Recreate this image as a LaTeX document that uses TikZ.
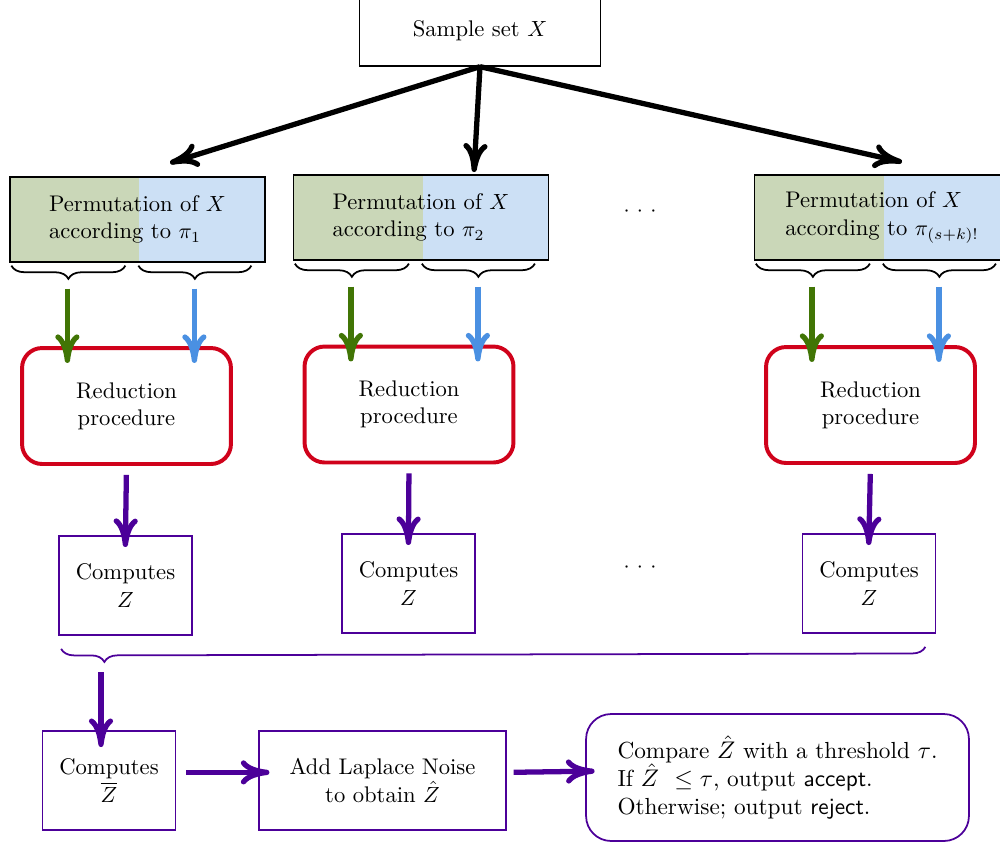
\documentclass[tikz,border=0pt]{standalone}
\usepackage{amsmath,amssymb}
\usepackage{tikz}
\usetikzlibrary{shapes,arrows.meta,calc,positioning,decorations.pathreplacing}
\definecolor{permgreen}{HTML}{CAD7B8}
\definecolor{permblue}{HTML}{CCE0F5}
\definecolor{arrgreen}{HTML}{417505}
\definecolor{arrblue}{HTML}{4A90E2}
\definecolor{redbox}{HTML}{D0021B}
\definecolor{purp}{HTML}{4C0099}

\tikzset{
  halfsplit/.style={path picture={
    \fill[permgreen] (path picture bounding box.north west) rectangle ($(path picture bounding box.south west)+(2.064cm,0)$);
    \fill[permblue] ($(path picture bounding box.north west)+(2.064cm,0)$) rectangle (path picture bounding box.south east);}},
  brc/.style={decorate,decoration={brace,mirror,amplitude=6pt},thick},
  bigarrow/.style={-{To[length=13pt,width=11pt]},line width=2.4pt}
}

\begin{document}
\begin{tikzpicture}[x=0.016cm, y=-0.016cm, font=\fontsize{10.3}{12.4}\selectfont]
   \useasboundingbox (0,0) rectangle (1000,845);
   % sample set and permutations
   \node (smp) [draw, semithick, minimum width=3.856cm, minimum height=1.12cm] at (480,31) {Sample set $X$};
   \begin{scope}[every node/.style={draw, semithick, halfsplit, align=left, minimum width=4.08cm, minimum height=1.36cm}]
    \node (p1) at (137.5,219.5) {Permutation of $X$\\according to $\pi_1$};
    \node (p2) at (421,217.5) {Permutation of $X$\\according to $\pi_2$};
    \node (p3) at (882,217.5) {Permutation of $X$\\according to $\pi_{(s+k)!}$};
   \end{scope}
   \node (dots1) at (640,212) {${\cdot}\mkern6mu{\cdot}\mkern6mu{\cdot}$};
   \node (dots2) at (640,568) {${\cdot}\mkern6mu{\cdot}\mkern6mu{\cdot}$};
   % reduction boxes
   \begin{scope}[every node/.style={draw=redbox, line width=1.8pt, rounded corners=0.32cm, align=center, minimum width=3.344cm, minimum height=1.856cm}]
    \node (r1) at (126.5,406) {Reduction\\procedure};
    \node (r2) at (409,404.5) {Reduction\\procedure};
    \node (r3) at (870.5,405) {Reduction\\procedure};
   \end{scope}
   \begin{scope}[every node/.style={draw=purp, thick, align=center, minimum width=2.128cm, minimum height=1.584cm}]
    \node (c1) at (125.5,585.5) {Computes\\$Z$};
    \node (c2) at (408.5,583.5) {Computes\\$Z$};
    \node (c3) at (869,583.5) {Computes\\$Z$};
    \node (zb) at (109,780.5) {Computes\\$\overline{Z}$};
    \node (lap) [minimum width=3.952cm] at (382.5,780.5) {Add Laplace Noise\\to obtain $\hat{Z}$};
    \node (cmp) [rounded corners=0.4cm, align=left, minimum width=6.128cm, minimum height=2.032cm, font=\fontsize{10.6}{12.9}\selectfont] at (777.5,777.5)
      {Compare $\hat{Z}$ with a threshold $\tau$.\\If $\hat{Z}$ \ $\leq\tau$, output \textsf{accept}.\\Otherwise; output \textsf{reject}.};
   \end{scope}
   % free ends
   \coordinate (t1) at (170,163);
   \coordinate (t2) at (474,172);
   \coordinate (t3) at (902,162);
   \coordinate (zt) at (101,672);
   \begin{scope}[bigarrow]
    \draw (smp.south) -- (t1);
    \draw (smp.south) -- (t2);
    \draw (smp.south) -- (t3);
   \end{scope}
   % braces and split arrows
   \foreach \p/\r in {p1/r1,p2/r2,p3/r3}{
    \draw[brc] ($(\p.south west)+(2,3)$) -- ($(\p.south west)+(116,3)$);
    \draw[brc] ($(\p.south west)+(129,3)$) -- ($(\p.south west)+(242,3)$);
    \coordinate (g\p) at ($(\p.south west)+(58,26)$);
    \coordinate (b\p) at ($(\p.south west)+(185,26)$);
    \draw[bigarrow, arrgreen, shorten >=-0.27cm] (g\p) -- (g\p |- \r.north);
    \draw[bigarrow, arrblue, shorten >=-0.27cm] (b\p) -- (b\p |- \r.north);
   }
   \begin{scope}[bigarrow, purp, shorten <=0.144cm, shorten >=-0.19cm]
    \draw (r1.south) -- (c1.north);
    \draw (r2.south) -- (c2.north);
    \draw (r3.south) -- (c3.north);
   \end{scope}
   \draw[purp, thick, decorate, decoration={brace, mirror, amplitude=6pt, aspect=0.05}]
     ($(c1.south west)+(3,13)$) -- ($(c3.south east)+(-11,13)$);
   \draw[bigarrow, purp, shorten >=-0.27cm] (zt) -- (zt |- zb.north);
   \draw[bigarrow, purp, shorten <=0.16cm, shorten >=-0.18cm] ([yshift=0.13cm]zb.east) -- ([yshift=0.13cm]lap.west);
   \draw[bigarrow, purp, shorten <=0.11cm, shorten >=-0.15cm] ([yshift=0.13cm]lap.east) -- ([yshift=0.1cm]cmp.west);
\end{tikzpicture}
\end{document}
